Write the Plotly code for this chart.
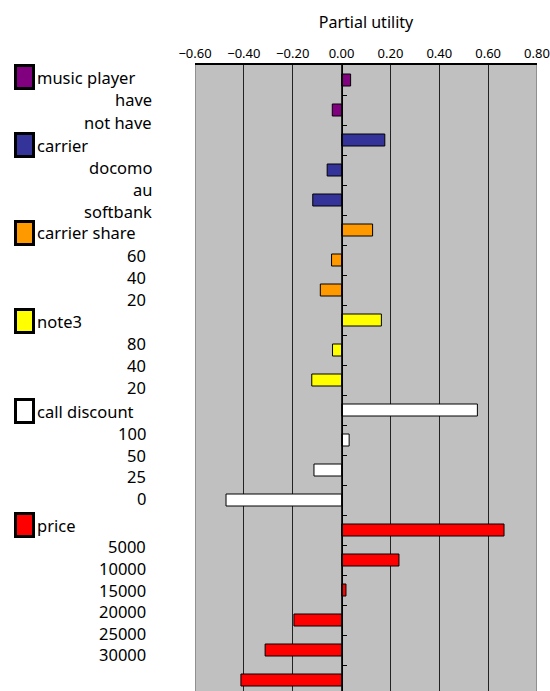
import plotly.graph_objects as go

# ---- data -------------------------------------------------------------
groups = ["music player", "carrier", "carrier share", "note3", "call discount", "price"]
group_colors = ["#800080", "#333399", "#FF9900", "#FFFF00", "#FFFFFF", "#FF0000"]

music_levels = ["have", "not have"]
music_util = [0.037, -0.038]

carrier_levels = ["docomo", "au", "softbank"]
carrier_util = [0.177, -0.059, -0.118]

share_levels = ["60", "40", "20"]
share_util = [0.127, -0.041, -0.087]

note3_levels = ["80", "40", "20"]
note3_util = [0.163, -0.037, -0.122]

discount_levels = ["100", "50", "25", "0"]
discount_util = [0.556, 0.031, -0.113, -0.473]

price_levels = ["5000", "10000", "15000", "20000", "25000", "30000"]
price_util = [0.665, 0.235, 0.018, -0.195, -0.313, -0.412]

level_lists = [music_levels, carrier_levels, share_levels, note3_levels,
               discount_levels, price_levels]
util_lists = [music_util, carrier_util, share_util, note3_util,
              discount_util, price_util]

x_ticks = [-0.6, -0.4, -0.2, 0.0, 0.2, 0.4, 0.6, 0.8]

# ---- layout geometry (pixels) -----------------------------------------
W, H = 550, 691
ML, MR, MT, MB = 195, 13, 65, 0
PW, PH = W - ML - MR, H - MT - MB
ROW_PX = 30  # height of one bar slot

LABEL_FONT = "Noto Sans, DejaVu Sans, sans-serif"
LABEL_SIZE = 16.5


def px_x(px):
    return (px - ML) / PW


def px_y(py):
    return 1 - (py - MT) / PH


# vertical centres of the rows in the left-hand label column
label_rows_y = [77, 99.5, 122, 145, 167, 189, 211, 233, 255, 277, 299,
                321, 343, 365, 387, 411, 433, 455, 476.5, 498,
                525, 546, 568, 590, 611.5, 633, 654.5]

fig = go.Figure()

# one bar trace per attribute group, stacked down the category axis
pos = 0
for name, color, levels, utils in zip(groups, group_colors, level_lists, util_lists):
    ys = list(range(pos, pos + len(utils)))
    fig.add_trace(go.Bar(
        x=utils, y=ys, orientation="h", name=name,
        width=0.4,
        marker=dict(color=color, line=dict(color="#000000", width=1)),
        showlegend=False, hoverinfo="x",
    ))
    pos += len(utils)
n_bars = pos

# ---- left-hand label column ------------------------------------------
annotations = []
shapes = []
row = 0
for name, color, levels in zip(groups, group_colors, level_lists):
    yc = label_rows_y[row]
    shapes.append(dict(
        type="rect", xref="paper", yref="paper",
        x0=px_x(15.5), x1=px_x(33.5), y0=px_y(yc - 11.5), y1=px_y(yc + 11.5),
        fillcolor=color, line=dict(color="#000000", width=3), layer="above",
    ))
    annotations.append(dict(
        text=name, xref="paper", yref="paper", x=px_x(35), y=px_y(yc),
        xanchor="left", yanchor="middle", showarrow=False,
        font=dict(family=LABEL_FONT, size=LABEL_SIZE, color="#000000"),
    ))
    row += 1
    for lev in levels:
        yc = label_rows_y[row]
        numeric = lev.isdigit()
        annotations.append(dict(
            text=lev, xref="paper", yref="paper",
            x=px_x(148 if numeric else 154), y=px_y(yc),
            xanchor="right", yanchor="middle", showarrow=False,
            font=dict(family=LABEL_FONT, size=LABEL_SIZE, color="#000000"),
        ))
        row += 1

# grey frame at the left and right edges of the plot area
for xv in (x_ticks[0], x_ticks[-1]):
    shapes.append(dict(
        type="line", xref="x", yref="paper", x0=xv, x1=xv, y0=0, y1=1,
        line=dict(color="#808080", width=1.5), layer="above",
    ))

fig.update_layout(
    width=W, height=H,
    margin=dict(l=ML, r=MR, t=MT, b=MB),
    paper_bgcolor="#FFFFFF", plot_bgcolor="#C0C0C0",
    font=dict(family="Noto Sans, DejaVu Sans, sans-serif", color="#000000"),
    bargap=0.6,
    annotations=annotations, shapes=shapes,
    xaxis=dict(
        side="top", range=[x_ticks[0], x_ticks[-1]],
        tickvals=x_ticks, tickformat=".2f",
        tickfont=dict(size=13), ticks="",
        showgrid=True, gridcolor="#222222", gridwidth=1,
        zeroline=False,
        showline=True, linecolor="#000000", linewidth=2,
        title=dict(text="Partial utility", font=dict(size=16), standoff=11),
    ),
    yaxis=dict(
        range=[-0.5 + PH / ROW_PX, -0.5],
        anchor="free",
        position=(0 - x_ticks[0]) / (x_ticks[-1] - x_ticks[0]),
        side="right",
        tickvals=[i + 0.5 for i in range(n_bars)],
        ticks="outside", ticklen=4, tickcolor="#000000", tickwidth=1,
        showticklabels=False, showgrid=False, zeroline=False,
        showline=True, linecolor="#000000", linewidth=1,
    ),
)

fig.write_html("out.html")
